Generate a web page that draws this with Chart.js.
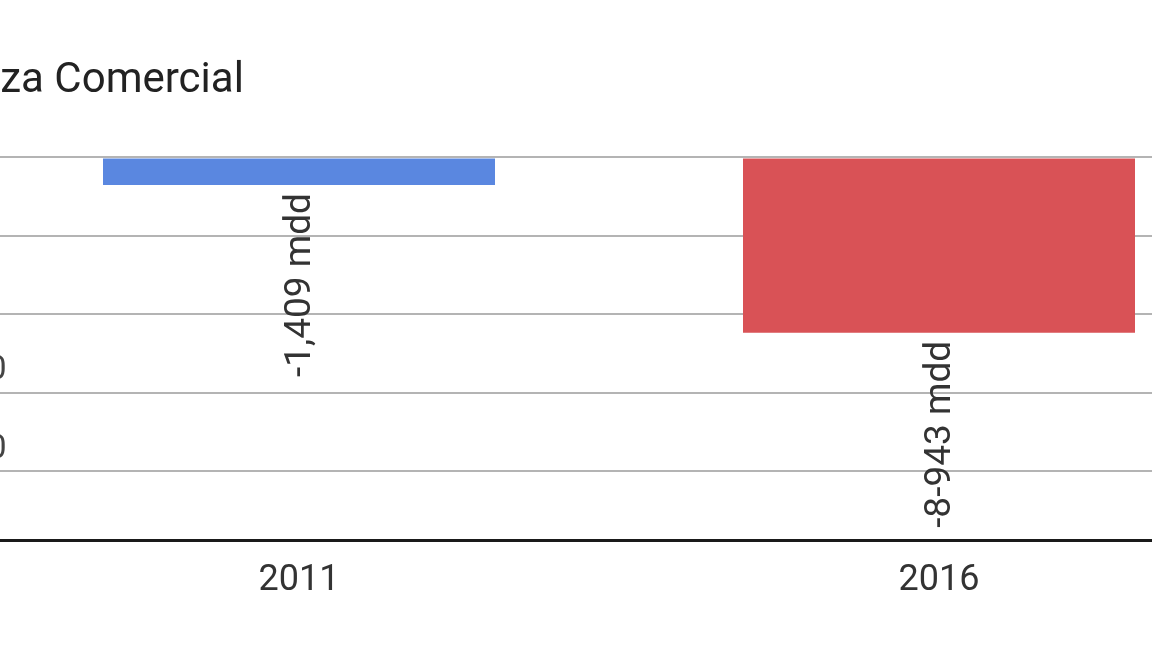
<!DOCTYPE html>
<html>
<head>
<meta charset="utf-8">
<script src="https://cdn.jsdelivr.net/npm/chart.js@4.4.1/dist/chart.umd.min.js"></script>
<style>
    html, body { margin: 0; padding: 0; background: #fff; overflow: hidden; }
    body { width: 1152px; height: 648px; position: relative; }
    /* the reference is a crop: the chart starts left of the window */
    #balanzaChart { position: absolute; left: -240px; top: 0; }
</style>
</head>
<body>
<canvas id="balanzaChart" width="1500" height="648"></canvas>
<script>
// Datos de la balanza comercial (millones de dólares)
const categories = ['2011', '2016'];
const balanceValues = [-1409, -8943];
const valueLabels = ['-1,409 mdd', '-8-943 mdd'];
const yTicks = [0, -4000, -8000, -12000, -16000];

const FONT = "Roboto, 'Noto Sans', sans-serif";

// Etiquetas giradas debajo de cada barra
const rotatedLabels = {
    id: 'rotatedLabels',
    afterDatasetsDraw(chart) {
        const ctx = chart.ctx;
        const meta = chart.getDatasetMeta(0);
        ctx.save();
        ctx.font = '37px ' + FONT;
        ctx.fillStyle = '#333';
        ctx.textAlign = 'right';
        ctx.textBaseline = 'middle';
        meta.data.forEach(function (bar, i) {
            ctx.save();
            ctx.translate(bar.x + 2, bar.y + 8);
            ctx.rotate(-Math.PI / 2);
            ctx.fillText(valueLabels[i], 0, 0);
            ctx.restore();
        });
        ctx.restore();
    }
};

new Chart(document.getElementById('balanzaChart'), {
    type: 'bar',
    data: {
        labels: categories,
        datasets: [{
            label: 'Balanza Comercial',
            data: balanceValues,
            backgroundColor: ['#5a87e0', '#d95256'],
            borderWidth: 0,
            categoryPercentage: 1,
            barPercentage: 0.6125
        }]
    },
    options: {
        responsive: false,
        animation: false,
        events: [],
        layout: {
            padding: { left: 135, right: 1, top: 56, bottom: 28 }
        },
        plugins: {
            legend: { display: false },
            tooltip: { enabled: false },
            title: {
                display: true,
                text: 'Balanza Comercial',
                align: 'start',
                color: '#222',
                font: { family: FONT, size: 42, weight: 'normal', lineHeight: 1.2 },
                padding: { top: 0, bottom: 51 }
            }
        },
        scales: {
            x: {
                grid: { display: false, drawTicks: false },
                border: { display: true, color: '#1a1a1a', width: 3 },
                ticks: {
                    color: '#333',
                    padding: 19,
                    font: { family: FONT, size: 36 }
                },
                afterFit: function (scale) { scale.height = 80; }
            },
            y: {
                min: -19500,
                max: 0,
                afterBuildTicks: function (scale) {
                    scale.ticks = yTicks.map(function (v) { return { value: v }; });
                },
                grid: { color: '#b4b4b4', lineWidth: 2, drawTicks: false },
                border: { display: false },
                ticks: {
                    color: '#444',
                    mirror: true,
                    crossAlign: 'near',
                    padding: -84,
                    labelOffset: -22,
                    font: { family: FONT, size: 34 },
                    callback: function (value) {
                        return value.toLocaleString('en-US');
                    }
                },
                afterFit: function (scale) { scale.width = 84; }
            }
        }
    },
    plugins: [rotatedLabels]
});
</script>
</body>
</html>
